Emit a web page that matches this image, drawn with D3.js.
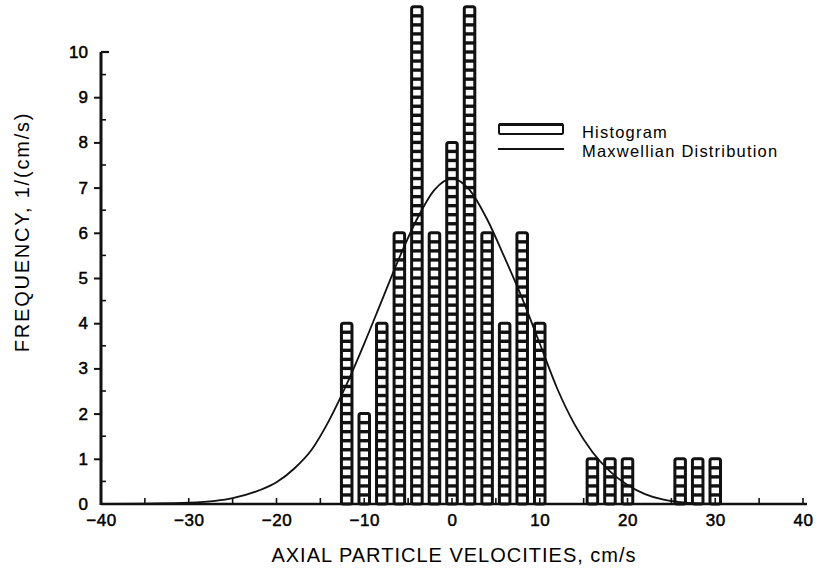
<!DOCTYPE html>
<html>
<head>
<meta charset="utf-8">
<script src="https://cdn.jsdelivr.net/npm/d3@7"></script>
<style>
  html, body { margin: 0; padding: 0; background: #fff; }
  svg { display: block; }
  text { font-family: "Liberation Sans", Arial, Helvetica, sans-serif; fill: #000; }
</style>
</head>
<body>
<svg id="chart" width="825" height="577"></svg>
<script>
// Histogram of axial particle velocities (bin centres, cm/s) and counts
const velocities = [-12, -10, -8, -6, -4, -2, 0, 2, 4, 6, 8, 10, 16, 18, 20, 26, 28, 30];
const frequencies = [4, 2, 4, 6, 11, 6, 8, 11, 6, 4, 6, 4, 1, 1, 1, 1, 1, 1];

// Fitted Maxwellian distribution, sampled along the velocity axis
const curveVelocity = [-40, -35, -30, -27, -25, -22, -20, -18, -16, -14, -12, -10, -8, -6, -4, -2, 0,
                       2, 4, 6, 8, 10, 12, 14, 16, 18, 20, 22, 24, 26, 28, 32, 40];
const curveFrequency = [0, 0.01, 0.03, 0.07, 0.13, 0.3, 0.48, 0.78, 1.2, 1.85, 2.65, 3.55, 4.5, 5.45, 6.3, 6.95, 7.2,
                        6.95, 6.3, 5.45, 4.55, 3.55, 2.55, 1.75, 1.15, 0.72, 0.42, 0.22, 0.1, 0.04, 0.015, 0, 0];

// Axis ticks
const xTickValues = [-40, -30, -20, -10, 0, 10, 20, 30, 40];
const xMinorTicks = [-40, -35, -30, -25, -20, -15, -10, -5, 0, 5, 10, 15, 20, 25, 30, 35, 40];
const yTickValues = [0, 1, 2, 3, 4, 5, 6, 7, 8, 9, 10];
const yHalfTicks = [0.5, 1.5, 2.5, 3.5, 4.5, 5.5, 6.5, 7.5, 8.5, 9.5];

const legendLabels = ["Histogram", "Maxwellian Distribution"];

const svg = d3.select("#chart");

const x = d3.scaleLinear().domain([-40, 40]).range([101, 803]);
const y = d3.scaleLinear().domain([0, 10]).range([504, 52]);

const ink = "#111";

// ---- histogram bars: ladder-like columns of small cells ----
const barHalf = (x(0.6) - x(0));
const cellStep = 0.2;
const bars = svg.append("g").attr("class", "bars");
velocities.forEach((v, i) => {
  const f = frequencies[i];
  const g = bars.append("g");
  const x0 = x(v) - barHalf, x1 = x(v) + barHalf;
  g.append("rect")
    .attr("x", x0).attr("y", y(f))
    .attr("width", x1 - x0).attr("height", y(0) - y(f))
    .attr("rx", 2)
    .attr("fill", "#fff").attr("stroke", ink).attr("stroke-width", 3);
  const rungs = d3.range(cellStep, f, cellStep);
  g.selectAll("line").data(rungs).join("line")
    .attr("x1", x0).attr("x2", x1)
    .attr("y1", d => y(d)).attr("y2", d => y(d))
    .attr("stroke", ink).attr("stroke-width", 3.4);
});

// ---- Maxwellian curve ----
const line = d3.line()
  .x((d, i) => x(curveVelocity[i]))
  .y(d => y(d))
  .curve(d3.curveMonotoneX);
svg.append("path")
  .datum(curveFrequency)
  .attr("d", line)
  .attr("fill", "none").attr("stroke", ink).attr("stroke-width", 1.8);

// ---- axes ----
// x axis: baseline with short inward ticks every 5 cm/s
const xAxis = d3.axisBottom(x).tickValues(xTickValues)
  .tickFormat(d => d < 0 ? "\u2212" + Math.abs(d) : d)
  .tickSize(0).tickPadding(10);
const gx = svg.append("g").attr("transform", `translate(0,${y(0)})`).call(xAxis);
gx.select(".domain").remove();
gx.selectAll("text").attr("font-size", 17).attr("font-family", "Liberation Sans, Arial, sans-serif")
  .attr("stroke", "#000").attr("stroke-width", 0.5).attr("letter-spacing", 0.6);
svg.append("line").attr("x1", x(-40)).attr("x2", x(40) + 4)
  .attr("y1", y(0)).attr("y2", y(0)).attr("stroke", ink).attr("stroke-width", 2.6);
svg.append("g").selectAll("line").data(xMinorTicks).join("line")
  .attr("x1", d => x(d)).attr("x2", d => x(d))
  .attr("y1", y(0)).attr("y2", y(0) - 6)
  .attr("stroke", ink).attr("stroke-width", 1.6);

// y axis: outward integer ticks, inward half-unit ticks
const yAxis = d3.axisLeft(y).tickValues(yTickValues).tickSize(7).tickPadding(6);
const gy = svg.append("g").attr("transform", `translate(${x(-40)},0)`).call(yAxis);
gy.select(".domain").remove();
gy.selectAll(".tick line").attr("stroke", ink).attr("stroke-width", 2)
  .filter(d => d === 0 || d === 10).remove();
gy.selectAll("text").attr("font-size", 17).attr("font-family", "Liberation Sans, Arial, sans-serif")
  .attr("stroke", "#000").attr("stroke-width", 0.5);
svg.append("line").attr("x1", x(-40)).attr("x2", x(-40))
  .attr("y1", y(0) + 1).attr("y2", y(10)).attr("stroke", ink).attr("stroke-width", 3);
svg.append("line").attr("x1", x(-40)).attr("x2", x(-40) + 8)
  .attr("y1", y(10)).attr("y2", y(10)).attr("stroke", ink).attr("stroke-width", 2.2);
svg.append("g").selectAll("line").data(yHalfTicks).join("line")
  .attr("x1", x(-40)).attr("x2", x(-40) + 5)
  .attr("y1", d => y(d)).attr("y2", d => y(d))
  .attr("stroke", ink).attr("stroke-width", 1.6);

// ---- axis titles ----
svg.append("text")
  .attr("x", (x(-40) + x(40)) / 2 + 2).attr("y", 562)
  .attr("text-anchor", "middle").attr("font-size", 20).attr("letter-spacing", 1)
  .text("AXIAL PARTICLE VELOCITIES, cm/s");
svg.append("text")
  .attr("transform", "translate(29,232) rotate(-90)")
  .attr("text-anchor", "middle").attr("font-size", 20).attr("letter-spacing", 1.8)
  .text("FREQUENCY, 1/(cm/s)");

// ---- legend ----
const lg = svg.append("g").attr("transform", "translate(498,0)");
lg.append("rect").attr("x", 1).attr("y", 124).attr("width", 64).attr("height", 10).attr("rx", 1.5)
  .attr("fill", "#fff").attr("stroke", ink).attr("stroke-width", 2);
lg.append("line").attr("x1", 1).attr("x2", 65).attr("y1", 124.5).attr("y2", 124.5)
  .attr("stroke", ink).attr("stroke-width", 3);
lg.append("line").attr("x1", 0).attr("x2", 66).attr("y1", 149).attr("y2", 149)
  .attr("stroke", ink).attr("stroke-width", 2);
lg.selectAll("text.leg").data(legendLabels).join("text").attr("class", "leg")
  .attr("x", 84).attr("y", (d, i) => 138 + i * 19)
  .attr("font-size", 16.5).attr("letter-spacing", 1.2)
  .text(d => d);
</script>
</body>
</html>
